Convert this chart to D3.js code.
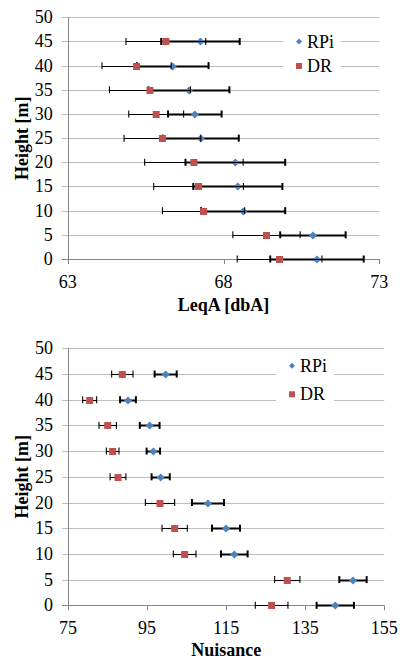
<!DOCTYPE html>
<html>
  <head>
    <meta charset="utf-8">
    <script src="https://d3js.org/d3.v7.min.js"></script>
  </head>
  <body style="margin:0">
    <svg id="t" width="400" height="659"></svg>

    <script>
      // data
      var heights = [0, 5, 10, 15, 20, 25, 30, 35, 40, 45];
      var yTicks = [0, 5, 10, 15, 20, 25, 30, 35, 40, 45, 50];

      var leqTicks = [63, 68, 73];
      var leqRpi = [71.0, 70.87, 68.63, 68.46, 68.38, 67.27, 67.08, 66.89, 66.37, 67.26];
      var leqRpiErr = [1.5, 1.05, 1.35, 1.43, 1.6, 1.22, 0.86, 1.3, 1.15, 1.26];
      var leqDr = [69.8, 69.38, 67.36, 67.2, 67.05, 66.04, 65.84, 65.64, 65.21, 66.15];
      var leqDrErr = [1.36, 1.08, 1.32, 1.44, 1.58, 1.23, 0.88, 1.3, 1.11, 1.28];

      var nuisTicks = [75, 95, 115, 135, 155];
      var nuisRpi = [142.6, 147.08, 117.06, 114.96, 110.4, 98.44, 96.58, 95.66, 90.17, 99.7];
      var nuisRpiErr = [4.72, 3.46, 3.37, 3.54, 4.05, 2.3, 1.7, 2.5, 2.0, 2.8];
      var nuisDr = [126.5, 130.46, 104.5, 101.98, 98.27, 87.65, 86.3, 85.04, 80.48, 88.74];
      var nuisDrErr = [4.13, 3.2, 2.87, 3.2, 3.7, 2.0, 1.6, 2.2, 1.77, 2.7];

      var seriesNames = ["RPi", "DR"];

      var blue = "#4f81bd", red = "#c0504d";
      var svg = d3.select("#t");

      function diamond(r) {
        return "M0," + (-r) + "L" + r + ",0L0," + r + "L" + (-r) + ",0Z";
      }

      // texts go straight into the svg (not in a <g>), same as the font test that came out serif
      function addText(x, y, str, bold, anchor) {
        var t = svg.append("text").attr("x", x).attr("y", y)
          .style("font-size", "18px")
          .style("font-family", "\"Liberation Serif\"")
          .attr("text-anchor", anchor || "start")
          .text(str);
        if (bold) t.style("font-weight", "bold");
        return t;
      }

      function drawPanel(opt) {
        var g = svg.append("g");
        var x = d3.scaleLinear().domain([opt.ticks[0], opt.ticks[opt.ticks.length - 1]]).range([opt.left, opt.right]);
        var y = d3.scaleLinear().domain([0, 50]).range([opt.bottom, opt.top]);

        // gridlines + little ticks to the left of the axis
        g.selectAll(".grid").data(yTicks).enter().append("line")
          .attr("x1", opt.left - 6).attr("x2", opt.right)
          .attr("y1", function(d) { return Math.round(y(d)) + 0.5; })
          .attr("y2", function(d) { return Math.round(y(d)) + 0.5; })
          .attr("stroke", function(d) { return d == 0 ? "#868686" : "#bfbfbf"; })
          .attr("stroke-width", 1);

        yTicks.forEach(function(d) {
          addText(opt.left - 15, y(d) + 6, d, false, "end");
        });

        // axis lines
        g.append("line")
          .attr("x1", Math.round(opt.left) + 0.5).attr("x2", Math.round(opt.left) + 0.5)
          .attr("y1", opt.top).attr("y2", opt.bottom)
          .attr("stroke", "#868686");

        g.selectAll(".xtick").data(opt.ticks).enter().append("line")
          .attr("x1", function(d) { return Math.round(x(d)) + 0.5; })
          .attr("x2", function(d) { return Math.round(x(d)) + 0.5; })
          .attr("y1", opt.bottom).attr("y2", opt.bottom + 5)
          .attr("stroke", "#868686");

        opt.ticks.forEach(function(d) {
          addText(x(d), opt.bottom + 29, d, false, "middle");
        });

        addText((opt.left + opt.right) / 2, opt.bottom + opt.titleGap, opt.xTitle, true, "middle");

        addText(0, 0, "Height [m]", true, "middle")
          .attr("transform", "translate(28," + ((opt.top + opt.bottom) / 2) + ") rotate(-90)");

        // legend (white box over gridlines)
        g.append("rect")
          .attr("x", opt.legendX - 16).attr("y", opt.legendY - 12)
          .attr("width", 58).attr("height", opt.legendGap + 24)
          .attr("fill", "#fff");
        g.append("path").attr("d", diamond(3))
          .attr("transform", "translate(" + opt.legendX + "," + opt.legendY + ")")
          .attr("fill", blue);
        g.append("rect")
          .attr("x", opt.legendX - 3).attr("y", opt.legendY + opt.legendGap - 3)
          .attr("width", 6).attr("height", 6).attr("fill", red);
        seriesNames.forEach(function(d, i) {
          addText(opt.legendX + 8, opt.legendY + i * opt.legendGap + 6, d, false, "start");
        });

        var series = [
          { vals: opt.rpi, err: opt.rpiErr, width: 2, color: blue, shape: "diamond" },
          { vals: opt.dr, err: opt.drErr, width: 1.1, color: red, shape: "square" }
        ];

        series.forEach(function(s) {
          var rows = heights.map(function(h, i) { return { h: h, v: s.vals[i], e: s.err[i] }; });
          var bars = g.append("g").attr("stroke", "#000").attr("stroke-width", s.width);
          bars.selectAll(".bar").data(rows).enter().append("line")
            .attr("x1", function(d) { return x(d.v - d.e); })
            .attr("x2", function(d) { return x(d.v + d.e); })
            .attr("y1", function(d) { return Math.round(y(d.h)) + 0.5; })
            .attr("y2", function(d) { return Math.round(y(d.h)) + 0.5; });
          rows.forEach(function(d) {
            [d.v - d.e, d.v + d.e].forEach(function(v) {
              bars.append("line")
                .attr("x1", x(v)).attr("x2", x(v))
                .attr("y1", y(d.h) - 3.5).attr("y2", y(d.h) + 3.5);
            });
          });

          if (s.shape == "diamond") {
            g.selectAll(".pt").data(rows).enter().append("path")
              .attr("d", diamond(4))
              .attr("transform", function(d) { return "translate(" + x(d.v) + "," + (Math.round(y(d.h)) + 0.5) + ")"; })
              .attr("fill", s.color);
          } else {
            g.selectAll(".pt").data(rows).enter().append("rect")
              .attr("x", function(d) { return x(d.v) - 3.5; })
              .attr("y", function(d) { return Math.round(y(d.h)) + 0.5 - 3.5; })
              .attr("width", 7).attr("height", 7)
              .attr("fill", s.color);
          }
        });
      }

      drawPanel({
        left: 67.7, right: 379.3, top: 17.3, bottom: 259,
        ticks: leqTicks, rpi: leqRpi, rpiErr: leqRpiErr, dr: leqDr, drErr: leqDrErr,
        xTitle: "LeqA [dbA]", titleGap: 52, legendX: 299, legendY: 41.5, legendGap: 24.5
      });

      drawPanel({
        left: 68, right: 384.3, top: 348.3, bottom: 605.3,
        ticks: nuisTicks, rpi: nuisRpi, rpiErr: nuisRpiErr, dr: nuisDr, drErr: nuisDrErr,
        xTitle: "Nuisance", titleGap: 51, legendX: 292, legendY: 365.7, legendGap: 28.6
      });
    </script>
  </body>
</html>
